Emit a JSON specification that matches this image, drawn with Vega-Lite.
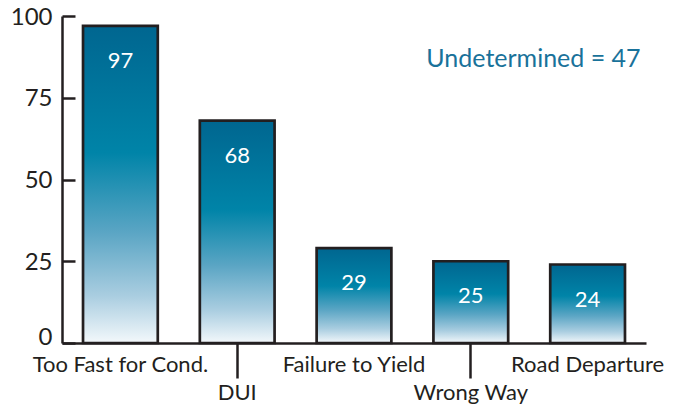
{
  "$schema": "https://vega.github.io/schema/vega-lite/v6.json",
  "width": 584,
  "height": 327,
  "autosize": {"type": "none"},
  "padding": {"left": 62, "top": 16, "right": 37, "bottom": 64},
  "background": "white",
  "config": {"view": {"stroke": null}, "font": "Lato"},
  "data": {"values": [
    {"cause": "Too Fast for Cond.", "count": 97},
    {"cause": "DUI", "count": 68},
    {"cause": "Failure to Yield", "count": 29},
    {"cause": "Wrong Way", "count": 25},
    {"cause": "Road Departure", "count": 24}
  ]},
  "encoding": {
    "x": {
      "field": "cause", "type": "nominal", "sort": null,
      "scale": {"paddingInner": 0.36, "paddingOuter": 0.18},
      "axis": {
        "title": null, "labelAngle": 0,
        "domainColor": "#231f20", "domainWidth": 2.5,
        "tickColor": "#231f20", "tickWidth": 2.5, "tickSize": 35,
        "tickOpacity": {"condition": {"test": "datum.value == 'DUI' || datum.value == 'Wrong Way'", "value": 1}, "value": 0},
        "labelExpr": "datum.value == 'DUI' || datum.value == 'Wrong Way' ? ['', datum.value] : datum.value",
        "labelBaseline": "alphabetic", "labelPadding": -7, "labelLineHeight": 28,
        "labelFont": "Lato", "labelFontSize": 22, "labelColor": "#231f20",
        "labelOverlap": false, "labelBound": false, "labelFlush": false
      }
    },
    "y": {
      "field": "count", "type": "quantitative",
      "scale": {"domain": [0, 100], "nice": false},
      "axis": {
        "title": null, "values": [0, 25, 50, 75, 100], "grid": false,
        "domainColor": "#231f20", "domainWidth": 2.5,
        "tickColor": "#231f20", "tickWidth": 2.5, "tickSize": -13,
        "labelPadding": 23, "labelFont": "Lato", "labelFontSize": 24, "labelColor": "#231f20",
        "labelOffset": {"condition": {"test": "datum.value == 0", "value": -6}, "value": 1}
      }
    }
  },
  "layer": [
    {
      "mark": {
        "type": "bar", "stroke": "#231f20", "strokeWidth": 2.7,
        "color": {
          "gradient": "linear", "x1": 0, "y1": 0, "x2": 0, "y2": 1,
          "stops": [
            {"offset": 0, "color": "#006690"},
            {"offset": 0.4, "color": "#0084a8"},
            {"offset": 0.65, "color": "#5aa5c4"},
            {"offset": 0.85, "color": "#a9cde0"},
            {"offset": 1, "color": "#f3f8fb"}
          ]
        }
      }
    },
    {
      "mark": {"type": "text", "color": "white", "fontSize": 22, "font": "Lato", "baseline": "middle", "dy": 35},
      "encoding": {"text": {"field": "count", "type": "quantitative"}}
    },
    {
      "data": {"values": [{"label": "Undetermined = 47", "cause": "Road Departure", "count": 87}]},
      "mark": {"type": "text", "color": "#19729a", "fontSize": 25, "font": "Lato", "align": "right", "baseline": "middle", "dx": 53},
      "encoding": {"text": {"field": "label", "type": "nominal"}}
    }
  ]
}
